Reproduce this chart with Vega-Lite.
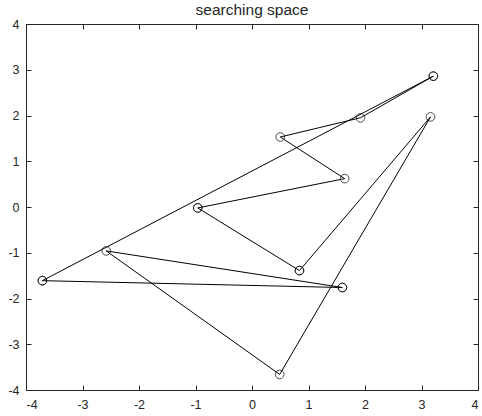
{
  "$schema": "https://vega.github.io/schema/vega-lite/v6.json",
  "autosize": {"type": "none"},
  "width": 452,
  "height": 366,
  "padding": {"left": 26, "top": 24, "right": 4, "bottom": 26},
  "background": "white",
  "title": {"text": "searching space", "fontSize": 15.5, "fontWeight": "normal", "font": "Liberation Sans", "color": "#262626", "offset": 0},
  "config": {
    "view": {"stroke": "#262626", "strokeWidth": 1},
    "axis": {"grid": false, "domain": false, "tickColor": "#262626", "tickSize": -5, "labelFont": "Liberation Sans", "labelFontSize": 12.5, "labelColor": "#262626", "title": null, "labelExpr": "'' + datum.value"}
  },
  "data": {"values": [
    {"step": 1, "x": 3.21, "y": 2.86},
    {"step": 2, "x": -3.71, "y": -1.61},
    {"step": 3, "x": -3.71, "y": -1.61},
    {"step": 4, "x": 1.60, "y": -1.76},
    {"step": 5, "x": 1.60, "y": -1.76},
    {"step": 6, "x": -2.58, "y": -0.96},
    {"step": 7, "x": 0.49, "y": -3.66},
    {"step": 8, "x": 3.16, "y": 1.97},
    {"step": 9, "x": 0.84, "y": -1.39},
    {"step": 10, "x": 0.84, "y": -1.39},
    {"step": 11, "x": -0.96, "y": -0.02},
    {"step": 12, "x": -0.96, "y": -0.02},
    {"step": 13, "x": 1.64, "y": 0.62},
    {"step": 14, "x": 0.50, "y": 1.53},
    {"step": 15, "x": 1.92, "y": 1.95},
    {"step": 16, "x": 3.21, "y": 2.86}
  ]},
  "layer": [
    {
      "mark": {"type": "line", "color": "black", "strokeWidth": 1},
      "encoding": {
        "x": {"field": "x", "type": "quantitative", "scale": {"domain": [-4, 4], "nice": false}, "axis": {"orient": "bottom", "labelPadding": 13, "values": [-4, -3, -2, -1, 0, 1, 2, 3, 4]}},
        "y": {"field": "y", "type": "quantitative", "scale": {"domain": [-4, 4], "nice": false}, "axis": {"orient": "left", "labelPadding": 12, "values": [-4, -3, -2, -1, 0, 1, 2, 3, 4]}},
        "order": {"field": "step"}
      }
    },
    {
      "mark": {"type": "point", "shape": "circle", "color": "black", "size": 75, "strokeWidth": 1, "filled": false},
      "encoding": {
        "x": {"field": "x", "type": "quantitative", "axis": {"orient": "top", "labels": false, "values": [-4, -3, -2, -1, 0, 1, 2, 3, 4]}},
        "y": {"field": "y", "type": "quantitative", "axis": {"orient": "right", "labels": false, "values": [-4, -3, -2, -1, 0, 1, 2, 3, 4]}}
      }
    }
  ],
  "resolve": {"axis": {"x": "independent", "y": "independent"}}
}
